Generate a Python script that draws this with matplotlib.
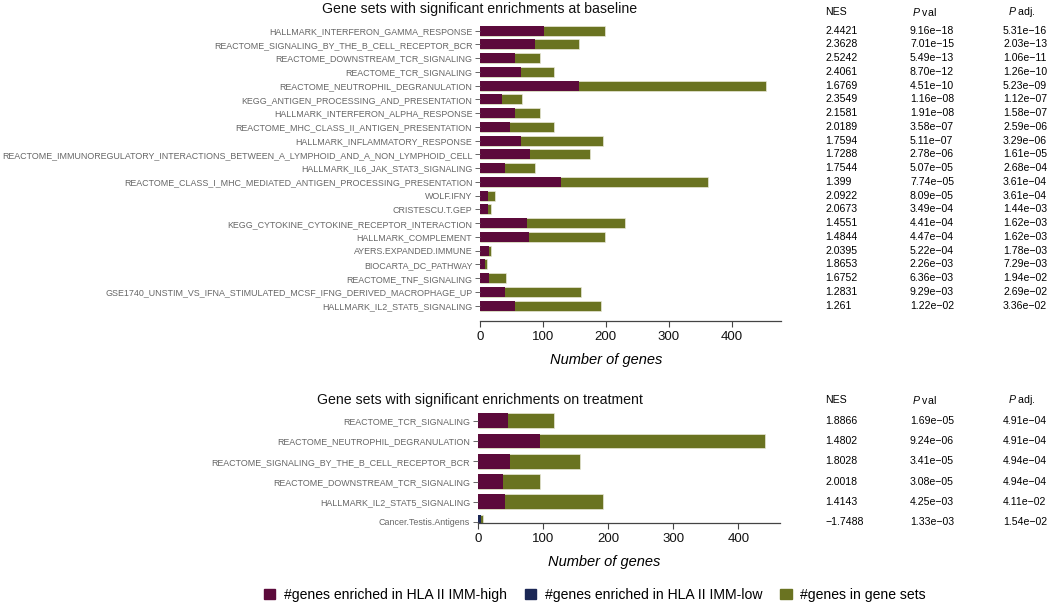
import matplotlib
matplotlib.use("Agg")
import matplotlib.pyplot as plt
import matplotlib.patches as mpatches
from matplotlib.transforms import blended_transform_factory

plt.rcParams['font.family'] = ['Liberation Sans', 'DejaVu Sans']
plt.rcParams['mathtext.fontset'] = 'custom'
plt.rcParams['mathtext.it'] = 'Liberation Sans:italic'
plt.rcParams['mathtext.rm'] = 'Liberation Sans'

# ---- baseline ----
base_sets = [
    "HALLMARK_INTERFERON_GAMMA_RESPONSE",
    "REACTOME_SIGNALING_BY_THE_B_CELL_RECEPTOR_BCR",
    "REACTOME_DOWNSTREAM_TCR_SIGNALING",
    "REACTOME_TCR_SIGNALING",
    "REACTOME_NEUTROPHIL_DEGRANULATION",
    "KEGG_ANTIGEN_PROCESSING_AND_PRESENTATION",
    "HALLMARK_INTERFERON_ALPHA_RESPONSE",
    "REACTOME_MHC_CLASS_II_ANTIGEN_PRESENTATION",
    "HALLMARK_INFLAMMATORY_RESPONSE",
    "REACTOME_IMMUNOREGULATORY_INTERACTIONS_BETWEEN_A_LYMPHOID_AND_A_NON_LYMPHOID_CELL",
    "HALLMARK_IL6_JAK_STAT3_SIGNALING",
    "REACTOME_CLASS_I_MHC_MEDIATED_ANTIGEN_PROCESSING_PRESENTATION",
    "WOLF.IFNY",
    "CRISTESCU.T.GEP",
    "KEGG_CYTOKINE_CYTOKINE_RECEPTOR_INTERACTION",
    "HALLMARK_COMPLEMENT",
    "AYERS.EXPANDED.IMMUNE",
    "BIOCARTA_DC_PATHWAY",
    "REACTOME_TNF_SIGNALING",
    "GSE1740_UNSTIM_VS_IFNA_STIMULATED_MCSF_IFNG_DERIVED_MACROPHAGE_UP",
    "HALLMARK_IL2_STAT5_SIGNALING",
]
base_high = [101, 87, 56, 65, 157, 35, 55, 48, 65, 80, 39, 129, 13, 13, 75, 78, 14, 8, 15, 40, 55]
base_low = [0] * 21
base_total = [198, 157, 95, 117, 455, 67, 95, 118, 196, 175, 87, 363, 24, 18, 230, 198, 18, 11, 42, 160, 193]
base_nes = [2.4421, 2.3628, 2.5242, 2.4061, 1.6769, 2.3549, 2.1581, 2.0189, 1.7594, 1.7288,
            1.7544, 1.399, 2.0922, 2.0673, 1.4551, 1.4844, 2.0395, 1.8653, 1.6752, 1.2831, 1.261]
base_pval = [9.16e-18, 7.01e-15, 5.49e-13, 8.70e-12, 4.51e-10, 1.16e-08, 1.91e-08, 3.58e-07,
             5.11e-07, 2.78e-06, 5.07e-05, 7.74e-05, 8.09e-05, 3.49e-04, 4.41e-04, 4.47e-04,
             5.22e-04, 2.26e-03, 6.36e-03, 9.29e-03, 1.22e-02]
base_padj = [5.31e-16, 2.03e-13, 1.06e-11, 1.26e-10, 5.23e-09, 1.12e-07, 1.58e-07, 2.59e-06,
             3.29e-06, 1.61e-05, 2.68e-04, 3.61e-04, 3.61e-04, 1.44e-03, 1.62e-03, 1.62e-03,
             1.78e-03, 7.29e-03, 1.94e-02, 2.69e-02, 3.36e-02]

# ---- on treatment ----
treat_sets = [
    "REACTOME_TCR_SIGNALING",
    "REACTOME_NEUTROPHIL_DEGRANULATION",
    "REACTOME_SIGNALING_BY_THE_B_CELL_RECEPTOR_BCR",
    "REACTOME_DOWNSTREAM_TCR_SIGNALING",
    "HALLMARK_IL2_STAT5_SIGNALING",
    "Cancer.Testis.Antigens",
]
treat_high = [46, 96, 50, 39, 42, 0]
treat_low = [0, 0, 0, 0, 0, 5]
treat_total = [117, 441, 157, 95, 192, 8]
treat_nes = [1.8866, 1.4802, 1.8028, 2.0018, 1.4143, -1.7488]
treat_pval = [1.69e-05, 9.24e-06, 3.41e-05, 3.08e-05, 4.25e-03, 1.33e-03]
treat_padj = [4.91e-04, 4.91e-04, 4.94e-04, 4.94e-04, 4.11e-02, 1.54e-02]

C_HIGH = '#5c0a3b'
C_LOW = '#1b2755'
C_TOT = '#6a7321'
EDGE = '#e8e8d8'

W, H = 1050, 603
fig = plt.figure(figsize=(W / 100, H / 100), dpi=100)


def fmt_p(v):
    return f"{v:.2e}".replace('-', '\u2212')


def fmt_nes(v):
    return str(v).replace('-', '\u2212')


def panel(rect, names, high, low, total, nes, pval, padj, xmax, ylo, title, title_y, head_y, xlab_y):
    ax = fig.add_axes(rect)
    y = list(range(len(names)))
    ax.barh(y, total, height=0.73, color=C_TOT, edgecolor=EDGE, linewidth=0.5)
    ax.barh(y, high, height=0.73, color=C_HIGH, edgecolor='none')
    ax.barh(y, low, height=0.73, color=C_LOW, edgecolor='none')
    ax.set_ylim(ylo, -0.6)
    ax.set_xlim(0, xmax)
    ax.set_yticks(y)
    ax.set_yticklabels(names, fontsize=6.4, color='#111111')
    ax.set_xticks([0, 100, 200, 300, 400])
    ax.tick_params(axis='x', labelsize=9.5, colors='#444444', labelcolor='#111111', length=4, width=0.8)
    ax.tick_params(axis='y', colors='#666666', length=3.5, width=0.7, pad=2)
    for s in ['top', 'right', 'left']:
        ax.spines[s].set_visible(False)
    ax.spines['bottom'].set_color('#444444')
    ax.spines['bottom'].set_linewidth(0.9)
    ax.set_xlabel('Number of genes', fontsize=10.5, style='italic')
    ax.xaxis.set_label_coords(0.42, xlab_y)

    fig.text(480 / W, title_y, title, fontsize=10.2, ha='center', va='center', color='#111111')

    tr = blended_transform_factory(fig.transFigure, ax.transData)
    for i in y:
        ax.text(825 / W, i, fmt_nes(nes[i]), transform=tr, fontsize=7.6, va='center', ha='left')
        ax.text(910 / W, i, fmt_p(pval[i]), transform=tr, fontsize=7.6, va='center', ha='left')
        ax.text(1003 / W, i, fmt_p(padj[i]), transform=tr, fontsize=7.6, va='center', ha='left')
    fig.text(825 / W, head_y, 'NES', fontsize=7.6, va='center', ha='left')
    fig.text(912 / W, head_y, r'$\mathit{P}$ val', fontsize=7.6, va='center', ha='left')
    fig.text(1008 / W, head_y, r'$\mathit{P}$ adj.', fontsize=7.6, va='center', ha='left')
    return ax


panel([480 / W, 1 - 321 / H, 301 / W, (321 - 22.4) / H],
      base_sets, base_high, base_low, base_total, base_nes, base_pval, base_padj,
      478.5, 21.11, 'Gene sets with significant enrichments at baseline', 1 - 9 / H, 1 - 12 / H, -0.106)

panel([477.7 / W, 1 - 523 / H, 302.3 / W, (523 - 408.7) / H],
      treat_sets, treat_high, treat_low, treat_total, treat_nes, treat_pval, treat_padj,
      464, 5.05, 'Gene sets with significant enrichments on treatment', 1 - 400 / H, 1 - 400 / H, -0.28)

handles = [
    mpatches.Patch(color=C_HIGH, label='#genes enriched in HLA II IMM-high'),
    mpatches.Patch(color=C_LOW, label='#genes enriched in HLA II IMM-low'),
    mpatches.Patch(color=C_TOT, label='#genes in gene sets'),
]
fig.legend(handles=handles, loc='center', bbox_to_anchor=(595 / W, 1 - 595 / H), ncol=3,
           frameon=False, fontsize=10.1, handlelength=0.8, handleheight=0.8,
           handletextpad=0.6, columnspacing=1.3)

fig.savefig('out.png', dpi=100)
